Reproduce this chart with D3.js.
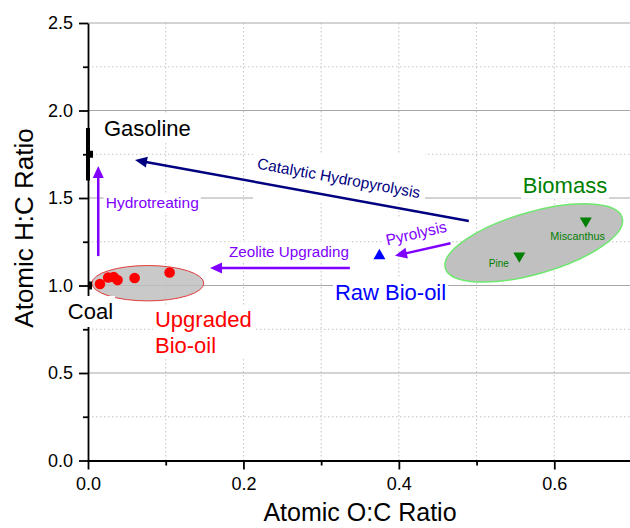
<!DOCTYPE html>
<html>
<head>
<meta charset="utf-8">
<script src="https://cdn.jsdelivr.net/npm/d3@7"></script>
<style>
body { margin: 0; background: #fff; }
svg text { font-family: "Liberation Sans", Arial, sans-serif; }
</style>
</head>
<body>
<svg id="chart" width="630" height="528"></svg>
<script>
(function() {
"use strict";

// values (O:C, H:C)
var upgradedOC = [0.0154, 0.026, 0.033, 0.038, 0.060, 0.105];
var upgradedHC = [1.009, 1.046, 1.049, 1.031, 1.043, 1.074];
var rawOC = [0.375];
var rawHC = [1.17];
var biomassNames = ["Pine", "Miscanthus"];
var biomassOC = [0.555, 0.6405];
var biomassHC = [1.169, 1.369];
var gasolineHC = [1.6, 1.75, 1.9];   // low, typical, high
var coalHC = [1.0];

var xTicks = [0, 0.2, 0.4, 0.6];
var xMinor = [0.1, 0.3, 0.5];
var yTicks = [0, 0.5, 1.0, 1.5, 2.0, 2.5];
var yMinor = [0.25, 0.75, 1.25, 1.75, 2.25];

// process arrows, in data units
var arrowFrom = [[0.49, 1.369], [0.0132, 1.168], [0.337, 1.1], [0.4665, 1.241]];
var arrowTo = [[0.0605, 1.717], [0.0132, 1.683], [0.157, 1.1], [0.395, 1.17]];
var arrowColor = ["#000080", "#8000ff", "#8000ff", "#8000ff"];

var svg = d3.select("#chart");
var x = d3.scaleLinear().domain([0, 0.7]).range([88, 632]);
var y = d3.scaleLinear().domain([0, 2.5]).range([460.5, 23]);

var gridLayer = svg.append("g");
var shapeLayer = svg.append("g");
var axisLayer = svg.append("g");
var boxLayer = svg.append("g");
var arrowLayer = svg.append("g");
var markLayer = svg.append("g");
var textLayer = svg.append("g");

// grid
gridLayer.selectAll(".vgrid")
  .data(xTicks.slice(1).concat(xMinor))
  .enter().append("line")
  .attr("x1", function(d) { return x(d); })
  .attr("x2", function(d) { return x(d); })
  .attr("y1", y(0)).attr("y2", y(2.5))
  .attr("stroke", "#c4c4c4")
  .attr("stroke-dasharray", "1.5,2.5");

gridLayer.selectAll(".hminor")
  .data(yMinor)
  .enter().append("line")
  .attr("x1", x(0)).attr("x2", x(0.7))
  .attr("y1", function(d) { return y(d); })
  .attr("y2", function(d) { return y(d); })
  .attr("stroke", "#c4c4c4")
  .attr("stroke-dasharray", "1.5,2.5");

gridLayer.selectAll(".hmajor")
  .data(yTicks.slice(1))
  .enter().append("line")
  .attr("x1", x(0)).attr("x2", x(0.7))
  .attr("y1", function(d) { return y(d); })
  .attr("y2", function(d) { return y(d); })
  .attr("stroke", "#a8a8a8")
  .attr("stroke-width", 1.2);

// group ellipses
shapeLayer.append("ellipse")
  .attr("cx", x(0.077)).attr("cy", y(1.013))
  .attr("rx", x(0.072) - x(0)).attr("ry", y(0) - y(0.101))
  .attr("fill", "#c0c0c0").attr("fill-opacity", 0.85)
  .attr("stroke", "#e23a3a").attr("stroke-width", 1);

shapeLayer.append("ellipse")
  .attr("transform", "translate(" + [x(0.5736), y(1.243)] + ") rotate(-16)")
  .attr("rx", x(0.1183) - x(0)).attr("ry", x(0.0399) - x(0))
  .attr("fill", "#c0c0c0")
  .attr("stroke", "#6ee86e").attr("stroke-width", 1.5);

// axes
function styleAxis(g) {
  g.selectAll("path, line").attr("stroke", "#000").attr("stroke-width", 1.8);
  g.selectAll("text").attr("font-size", 18).attr("fill", "#000")
    .attr("font-family", "'Liberation Sans', Arial, sans-serif");
}

axisLayer.append("g")
  .attr("transform", "translate(0," + y(0) + ")")
  .call(d3.axisBottom(x).tickValues(xTicks).tickSize(9).tickSizeOuter(0)
    .tickPadding(8).tickFormat(d3.format(".1f")))
  .call(styleAxis);

axisLayer.append("g")
  .attr("transform", "translate(0," + y(0) + ")")
  .call(d3.axisBottom(x).tickValues(xMinor).tickSize(5).tickFormat(""))
  .call(function(g) { g.select(".domain").remove(); })
  .call(styleAxis);

axisLayer.append("g")
  .attr("transform", "translate(" + x(0) + ",0)")
  .call(d3.axisLeft(y).tickValues(yTicks).tickSize(9).tickSizeOuter(0)
    .tickPadding(6).tickFormat(d3.format(".1f")))
  .call(styleAxis);

axisLayer.append("g")
  .attr("transform", "translate(" + x(0) + ",0)")
  .call(d3.axisLeft(y).tickValues(yMinor).tickSize(5).tickFormat(""))
  .call(function(g) { g.select(".domain").remove(); })
  .call(styleAxis);

axisLayer.append("text")
  .attr("x", 360).attr("y", 521)
  .attr("text-anchor", "middle")
  .attr("font-size", 25)
  .text("Atomic O:C Ratio");

axisLayer.append("text")
  .attr("transform", "translate(33,228) rotate(-90)")
  .attr("text-anchor", "middle")
  .attr("font-size", 26)
  .text("Atomic H:C Ratio");

// arrows
arrowFrom.forEach(function(p, i) {
  var x1 = x(p[0]), y1 = y(p[1]);
  var x2 = x(arrowTo[i][0]), y2 = y(arrowTo[i][1]);
  var a = Math.atan2(y2 - y1, x2 - x1);
  var len = 12, half = 5.5;
  var bx = x2 - len * Math.cos(a), by = y2 - len * Math.sin(a);
  arrowLayer.append("line")
    .attr("x1", x1).attr("y1", y1).attr("x2", bx + Math.cos(a)).attr("y2", by + Math.sin(a))
    .attr("stroke", arrowColor[i]).attr("stroke-width", 2.5);
  var nx = -Math.sin(a) * half, ny = Math.cos(a) * half;
  arrowLayer.append("path")
    .attr("d", "M" + x2 + "," + y2 + "L" + (bx + nx) + "," + (by + ny) +
      "L" + (bx - nx) + "," + (by - ny) + "Z")
    .attr("fill", arrowColor[i]);
});

// gasoline range bar and coal point on the axis
markLayer.append("rect")
  .attr("x", x(0) - 2).attr("width", 4)
  .attr("y", y(gasolineHC[2])).attr("height", y(gasolineHC[0]) - y(gasolineHC[2]))
  .attr("fill", "#000");
markLayer.append("rect")
  .attr("x", x(0) - 2).attr("width", 7)
  .attr("y", y(gasolineHC[1]) - 3.5).attr("height", 7)
  .attr("fill", "#000");
markLayer.selectAll(".coal")
  .data(coalHC)
  .enter().append("rect")
  .attr("x", x(0)).attr("width", 4)
  .attr("y", function(d) { return y(d) - 4; }).attr("height", 8)
  .attr("fill", "#000");

// upgraded bio-oil points
markLayer.selectAll(".upg")
  .data(upgradedOC)
  .enter().append("circle")
  .attr("cx", function(d) { return x(d); })
  .attr("cy", function(d, i) { return y(upgradedHC[i]); })
  .attr("r", 5.3)
  .attr("fill", "#ff0000");

// raw bio-oil
markLayer.selectAll(".raw")
  .data(rawOC)
  .enter().append("path")
  .attr("d", d3.symbol().type(d3.symbolTriangle).size(62))
  .attr("transform", function(d, i) { return "translate(" + [x(d), y(rawHC[i])] + ")"; })
  .attr("fill", "#0000ff");

// biomass
markLayer.selectAll(".bio")
  .data(biomassOC)
  .enter().append("path")
  .attr("d", d3.symbol().type(d3.symbolTriangle).size(62))
  .attr("transform", function(d, i) {
    return "translate(" + [x(d), y(biomassHC[i])] + ") rotate(180)";
  })
  .attr("fill", "#007f00");

var nameOffset = [[-0.0264, -0.063], [-0.0105, -0.109]];
textLayer.selectAll(".bioname")
  .data(biomassNames)
  .enter().append("text")
  .attr("x", function(d, i) { return x(biomassOC[i] + nameOffset[i][0]); })
  .attr("y", function(d, i) { return y(biomassHC[i] + nameOffset[i][1]); })
  .attr("text-anchor", "middle")
  .attr("fill", "#007f00")
  .style("font-size", function(d, i) { return i ? "10.8px" : "10px"; })
  .text(function(d) { return d; });

// labels with white backgrounds
function label(lines, px, py, size, color, opts) {
  opts = opts || {};
  var t = textLayer.append("text")
    .attr("font-size", size)
    .attr("fill", color)
    .attr("text-anchor", opts.anchor || "start");
  if (opts.rotate) {
    t.attr("transform", "translate(" + [x(px), y(py)] + ") rotate(" + opts.rotate + ")")
      .attr("dy", "0.35em")
      .attr("text-anchor", "middle");
  } else {
    t.attr("x", x(px)).attr("y", y(py));
  }
  lines.forEach(function(s, i) {
    var ts = t.append("tspan").text(s);
    if (!opts.rotate) ts.attr("x", x(px)).attr("dy", i ? size * 1.2 : 0);
  });
  var padX = opts.padX == null ? 2 : opts.padX, padY = opts.padY == null ? 1 : opts.padY;
  var r = t.node().getBoundingClientRect();
  var sr = svg.node().getBoundingClientRect();
  boxLayer.append("rect")
    .attr("x", r.left - sr.left - padX).attr("y", r.top - sr.top - padY)
    .attr("width", r.width + 2 * padX).attr("height", r.height + 2 * padY)
    .attr("fill", "#fff");
  return t;
}

label(["Gasoline"], 0.0206, 1.854, 22, "#000");
label(["Coal"], 0.0032, 0.8086, 22, "#000", {anchor: "middle", padY: 3});
label(["Upgraded", "Bio-oil"], 0.0862, 0.7646, 22, "#ff0000");
label(["Raw Bio-oil"], 0.3177, 0.917, 22, "#0000ff");
label(["Biomass"], 0.5595, 1.530, 22, "#007f00");
label(["Hydrotreating"], 0.0228, 1.443, 15.5, "#8000ff");
label(["Zeolite Upgrading"], 0.1814, 1.165, 15.2, "#8000ff");
label(["Catalytic Hydropyrolysis"], 0.3228, 1.614, 15.5, "#000080", {rotate: 10.3, padX: 3, padY: 2});
label(["Pyrolysis"], 0.4222, 1.299, 15.5, "#8000ff", {rotate: -13, padX: 1, padY: 0});

})();
</script>
</body>
</html>
